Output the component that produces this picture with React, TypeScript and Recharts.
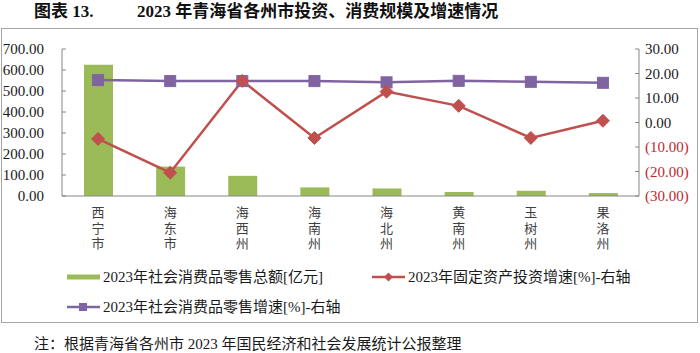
import React from "react";
import { ComposedChart, Bar, Line, XAxis, YAxis } from "recharts";

const categories = ["西宁市", "海东市", "海西州", "海南州", "海北州", "黄南州", "玉树州", "果洛州"];
const retailTotal = [625, 140, 96, 41, 36, 19, 25, 14];
const investGrowth = [-6.7, -20.5, 17.0, -6.3, 12.6, 6.8, -6.3, 0.7];
const retailGrowth = [17.3, 16.9, 16.9, 16.9, 16.4, 17.0, 16.6, 16.2];
const leftTicks = [0, 100, 200, 300, 400, 500, 600, 700];
const rightTicks = [-30, -20, -10, 0, 10, 20, 30];

const seriesNames = {
  bar: "2023年社会消费品零售总额[亿元]",
  invest: "2023年固定资产投资增速[%]-右轴",
  retail: "2023年社会消费品零售增速[%]-右轴",
};

const data = categories.map((c, i) => ({
  name: c,
  total: retailTotal[i],
  invest: investGrowth[i],
  retail: retailGrowth[i],
}));

const GREEN = "#9bbb59";
const RED = "#c0504d";
const PURPLE = "#8064a2";
const AXIS = "#868686";
const SERIF = "'Liberation Serif', 'Noto Sans CJK SC', serif";
const CJK = "'Noto Sans CJK SC', sans-serif";

const LeftTick = (props: any) => {
  const { x, y, payload } = props;
  return (
    <g>
      <line x1={x} x2={x + 4} y1={y} y2={y} stroke={AXIS} />
      <text x={x - 18} y={y} dy="0.35em" textAnchor="end" fontFamily={SERIF} fontSize={15} fill="#1a1a1a">
        {Number(payload.value).toFixed(2)}
      </text>
    </g>
  );
};

const RightTick = (props: any) => {
  const { x, y, payload } = props;
  const v = Number(payload.value);
  const label = v < 0 ? `(${Math.abs(v).toFixed(2)})` : v.toFixed(2);
  return (
    <g>
      <line x1={x - 4} x2={x} y1={y} y2={y} stroke={AXIS} />
      <text x={x + 6} y={y} dy="0.35em" textAnchor="start" fontFamily={SERIF} fontSize={15} fill={v < 0 ? "#c0282d" : "#1a1a1a"}>
        {label}
      </text>
    </g>
  );
};

const CatTick = (props: any) => {
  const { x, y, payload } = props;
  return (
    <text
      x={x}
      y={y + 10}
      textAnchor="start"
      fontFamily={CJK}
      fontSize={13}
      fill="#404040"
      style={{ writingMode: "vertical-rl", letterSpacing: "2.5px" } as any}
    >
      {String(payload.value)}
    </text>
  );
};

const Square = (props: any) => {
  const { cx, cy } = props;
  if (cx == null || cy == null) return null;
  return <rect x={cx - 5.5} y={cy - 5.5} width={11} height={11} fill={PURPLE} stroke={PURPLE} />;
};

const Diamond = (props: any) => {
  const { cx, cy } = props;
  if (cx == null || cy == null) return null;
  const r = 6.5;
  return <polygon points={`${cx},${cy - r} ${cx + r},${cy} ${cx},${cy + r} ${cx - r},${cy}`} fill={RED} stroke={RED} />;
};

export default function App() {
  return (
    <div style={{ position: "absolute", left: 0, top: 0, width: 700, height: 353, background: "#fff", overflow: "hidden" }}>
      <div style={{ position: "absolute", left: 34, top: 2, fontFamily: SERIF, fontWeight: "bold", fontSize: 17, color: "#111", whiteSpace: "nowrap", lineHeight: "20px" }}>
        <span>图表 13.</span>
        <span style={{ position: "absolute", left: 103 }}>2023 年青海省各州市投资、消费规模及增速情况</span>
      </div>
      <div style={{ position: "absolute", left: 1, top: 28, width: 695, height: 293, border: "1px solid #a6a6a6" }} />
      <div style={{ position: "absolute", left: 0, top: 0 }}>
        <ComposedChart width={700} height={260} data={data} margin={{ top: 49, right: 0, bottom: 0, left: 0 }} barCategoryGap="30%">
          <XAxis dataKey="name" height={64} tick={<CatTick />} tickLine={false} tickSize={0} tickMargin={0} axisLine={{ stroke: AXIS }} interval={0} />
          <YAxis yAxisId="left" orientation="left" width={62} domain={[0, 700]} ticks={leftTicks} tick={<LeftTick />} tickLine={false} tickSize={0} tickMargin={0} axisLine={{ stroke: AXIS }} interval={0} />
          <YAxis yAxisId="right" orientation="right" width={61} domain={[-30, 30]} ticks={rightTicks} tick={<RightTick />} tickLine={false} tickSize={0} tickMargin={0} axisLine={{ stroke: AXIS }} interval={0} />
          <Bar yAxisId="left" dataKey="total" name={seriesNames.bar} fill={GREEN} barSize={29} isAnimationActive={false} />
          <Line yAxisId="right" dataKey="retail" name={seriesNames.retail} stroke={PURPLE} strokeWidth={2.5} dot={<Square />} activeDot={false} isAnimationActive={false} />
          <Line yAxisId="right" dataKey="invest" name={seriesNames.invest} stroke={RED} strokeWidth={2.5} dot={<Diamond />} activeDot={false} isAnimationActive={false} />
        </ComposedChart>
      </div>
      <div style={{ position: "absolute", left: 0, top: 0, width: 700, height: 353, pointerEvents: "none" }}>
        <svg width={700} height={353} style={{ position: "absolute", left: 0, top: 0 }}>
          <rect x={67} y={274.5} width={33} height={5} fill={GREEN} />
          <line x1={372} x2={405} y1={277} y2={277} stroke={RED} strokeWidth={2.5} />
          <polygon points="388.5,272.5 393,277 388.5,281.5 384,277" fill={RED} />
          <line x1={67} x2={100} y1={307} y2={307} stroke={PURPLE} strokeWidth={2.5} />
          <rect x={79} y={303} width={8} height={8} fill={PURPLE} />
          <text x={103} y={277} dy="0.35em" fontFamily={SERIF} fontSize={15} fill="#1a1a1a">{seriesNames.bar}</text>
          <text x={408} y={277} dy="0.35em" fontFamily={SERIF} fontSize={15} fill="#1a1a1a">{seriesNames.invest}</text>
          <text x={103} y={307} dy="0.35em" fontFamily={SERIF} fontSize={15} fill="#1a1a1a">{seriesNames.retail}</text>
        </svg>
      </div>
      <div style={{ position: "absolute", left: 34, top: 334, fontFamily: SERIF, fontSize: 15, color: "#1a1a1a", whiteSpace: "nowrap", lineHeight: "20px" }}>
        注：根据青海省各州市 2023 年国民经济和社会发展统计公报整理
      </div>
    </div>
  );
}
